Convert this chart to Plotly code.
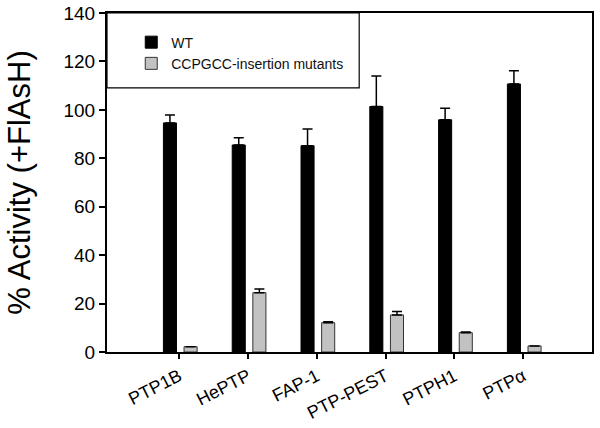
import plotly.graph_objects as go

categories = ["PTP1B", "HePTP", "FAP-1", "PTP-PEST", "PTPH1", "PTPα"]
wt_values = [94.6, 85.5, 85.2, 101.4, 95.9, 110.7]
wt_errors = [3.3, 3.0, 6.9, 12.6, 4.8, 5.4]
mut_values = [2.2, 24.5, 12.1, 15.3, 8.0, 2.5]
mut_errors = [0.0, 1.5, 0.4, 1.4, 0.3, 0.0]
y_ticks = [0, 20, 40, 60, 80, 100, 120, 140]

FONT = "Liberation Sans, Arial, sans-serif"
xs = list(range(len(categories)))

fig = go.Figure()
fig.add_trace(go.Bar(
    x=xs, y=wt_values, name="WT",
    marker=dict(color="black", line=dict(color="black", width=1)),
    width=0.19, offset=-0.23,
    error_y=dict(type="data", symmetric=False, array=wt_errors,
                 arrayminus=[0]*len(wt_errors), color="black", thickness=1.5, width=5),
))
fig.add_trace(go.Bar(
    x=xs, y=mut_values, name="CCPGCC-insertion mutants",
    marker=dict(color="#c2c2c2", line=dict(color="#333333", width=1)),
    width=0.19, offset=0.07,
    error_y=dict(type="data", symmetric=False, array=mut_errors,
                 arrayminus=[0]*len(mut_errors), color="black", thickness=1.5, width=5),
))

fig.update_layout(
    width=600, height=428,
    margin=dict(l=107, r=8, t=13, b=76, autoexpand=False),
    paper_bgcolor="white", plot_bgcolor="white",
    showlegend=True,
    legend=dict(x=0.05, y=0.96, xanchor="left", yanchor="top",
                bgcolor="rgba(0,0,0,0)", borderwidth=0,
                font=dict(family=FONT, size=14, color="#111111"),
                tracegroupgap=0, itemwidth=30),
    font=dict(family=FONT, color="black"),
    shapes=[dict(type="rect", xref="paper", yref="paper",
                 x0=0, x1=0.52, y0=0.779, y1=1,
                 line=dict(color="black", width=1.2), fillcolor="rgba(0,0,0,0)")],
)
fig.update_xaxes(
    range=[-1.05, 6.0], tickvals=xs, ticktext=categories, tickangle=-27,
    ticks="outside", ticklen=5, tickwidth=1.5, tickcolor="black",
    showline=True, linecolor="black", linewidth=2, mirror=True,
    showgrid=False, zeroline=False, automargin=False,
    tickfont=dict(family=FONT, size=18, color="black"),
)
fig.update_yaxes(
    range=[0, 140], tickvals=y_ticks,
    ticks="outside", ticklen=6, tickwidth=1.5, tickcolor="black",
    showline=True, linecolor="black", linewidth=2, mirror=True,
    showgrid=False, zeroline=False, automargin=False,
    tickfont=dict(family=FONT, size=19, color="black"),
    title=dict(text="% Activity (+FlAsH)", font=dict(family=FONT, size=31, color="black"), standoff=24),
)
fig.write_html("out.html", config={"displayModeBar": False},
               post_script="document.body.style.margin='0';")
